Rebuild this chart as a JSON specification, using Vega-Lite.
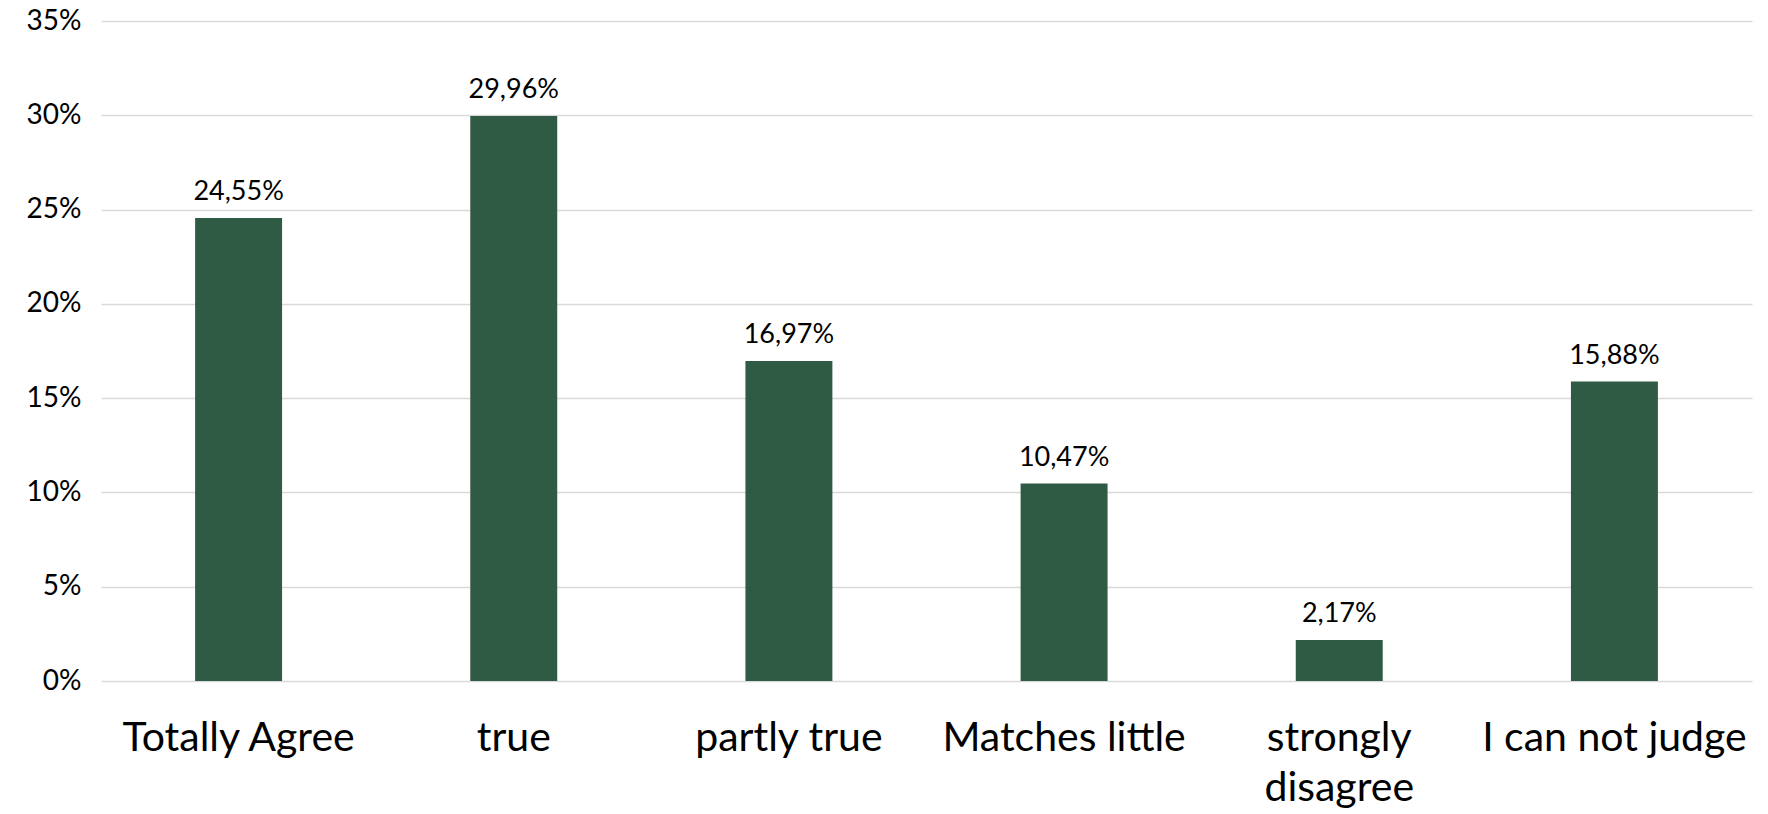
{
  "$schema": "https://vega.github.io/schema/vega-lite/v6.json",
  "width": 1651,
  "height": 660,
  "autosize": {"type": "none"},
  "padding": {"left": 101, "top": 21, "right": 16, "bottom": 133},
  "background": "white",
  "config": {
    "view": {"stroke": null},
    "font": "Lato",
    "locale": {"number": {"decimal": ",", "thousands": ".", "grouping": [3], "currency": ["", " €"]}}
  },
  "data": {"values": [
    {"category": "Totally Agree", "value": 0.2455},
    {"category": "true", "value": 0.2996},
    {"category": "partly true", "value": 0.1697},
    {"category": "Matches little", "value": 0.1047},
    {"category": "strongly disagree", "value": 0.0217},
    {"category": "I can not judge", "value": 0.1588}
  ]},
  "encoding": {
    "x": {
      "field": "category", "type": "nominal", "sort": null,
      "scale": {"paddingInner": 0.684, "paddingOuter": 0.342},
      "axis": {
        "title": null, "labelAngle": 0, "labelFontSize": 41, "labelColor": "#000000",
        "labelPadding": 37, "ticks": false, "domain": false, "labelLineHeight": 50,
        "labelBaseline": "top", "labelFont": "Lato", "labelLimit": 0,
        "labelExpr": "datum.label == 'strongly disagree' ? ['strongly', 'disagree'] : datum.label"
      }
    },
    "y": {
      "field": "value", "type": "quantitative",
      "scale": {"domain": [0, 0.35], "nice": false},
      "axis": {
        "title": null, "format": ".0%", "values": [0, 0.05, 0.1, 0.15, 0.2, 0.25, 0.3, 0.35],
        "labelFontSize": 28, "labelColor": "#000000", "labelPadding": 20,
        "ticks": false, "domain": false, "gridColor": "#d9d9d9", "gridWidth": 1.5
      }
    }
  },
  "layer": [
    {"mark": {"type": "bar", "color": "#2F5A44"}},
    {
      "mark": {"type": "text", "fontSize": 27, "color": "#000000", "baseline": "alphabetic", "dy": -18},
      "encoding": {"text": {"field": "value", "type": "quantitative", "format": ".2%"}}
    }
  ]
}
